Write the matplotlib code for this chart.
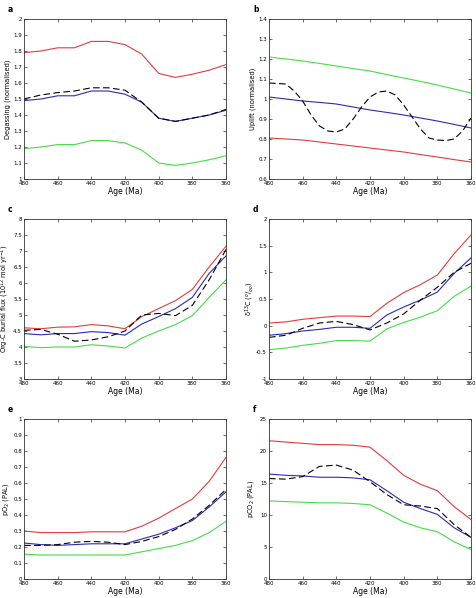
import matplotlib
matplotlib.use("Agg")
import matplotlib.pyplot as plt

age = [480, 470, 460, 450, 440, 430, 420, 410, 400, 390, 380, 370, 360]

# a: degassing
degas_red = [1.79, 1.80, 1.82, 1.82, 1.86, 1.86, 1.84, 1.78, 1.66, 1.635, 1.655, 1.68, 1.715]
degas_blue = [1.49, 1.50, 1.52, 1.52, 1.55, 1.55, 1.53, 1.48, 1.38, 1.36, 1.38, 1.40, 1.43]
degas_green = [1.19, 1.20, 1.215, 1.215, 1.24, 1.24, 1.225, 1.18, 1.10, 1.085, 1.10, 1.12, 1.145]
degas_dash = [1.50, 1.525, 1.54, 1.55, 1.57, 1.57, 1.555, 1.48, 1.38, 1.36, 1.38, 1.40, 1.435]

# b: uplift
uplift_red = [0.805, 0.80, 0.795, 0.785, 0.775, 0.765, 0.755, 0.745, 0.735, 0.722, 0.71, 0.697, 0.685]
uplift_blue = [1.01, 1.00, 0.99, 0.983, 0.975, 0.96, 0.945, 0.933, 0.92, 0.905, 0.89, 0.873, 0.855]
uplift_green = [1.21, 1.20, 1.19, 1.178, 1.165, 1.152, 1.14, 1.122, 1.105, 1.088, 1.07, 1.05, 1.03]
uplift_age_dash = [480, 470, 465, 460, 455, 450, 445, 440, 435, 430, 425, 420, 415, 410,
                   405, 400, 395, 390, 385, 380, 375, 370, 365, 360]
uplift_dash = [1.08, 1.075, 1.04, 0.99, 0.92, 0.865, 0.84, 0.835, 0.85, 0.90, 0.96, 1.01,
               1.035, 1.04, 1.02, 0.97, 0.91, 0.85, 0.805, 0.795, 0.792, 0.80, 0.84, 0.905]

# c: org-C burial
orgc_red = [4.6, 4.57, 4.62, 4.63, 4.7, 4.66, 4.57, 4.95, 5.2, 5.45, 5.8, 6.5, 7.15]
orgc_blue = [4.42, 4.38, 4.42, 4.42, 4.48, 4.45, 4.37, 4.72, 4.95, 5.2, 5.55, 6.3, 6.85]
orgc_green = [4.02, 3.98, 4.0, 4.0, 4.07, 4.03, 3.97, 4.28, 4.5, 4.7, 4.98, 5.55, 6.1]
orgc_dash = [4.52, 4.55, 4.4, 4.18, 4.22, 4.32, 4.5, 5.0, 5.05, 4.98, 5.3, 6.1, 7.05]

# d: d13C
d13c_red = [0.05, 0.07, 0.12, 0.15, 0.18, 0.18, 0.17, 0.42, 0.62, 0.77, 0.95, 1.35, 1.7]
d13c_blue = [-0.18, -0.15, -0.1, -0.07, -0.03, -0.03, -0.05, 0.2, 0.35, 0.48, 0.63, 0.98, 1.27]
d13c_green = [-0.45, -0.42, -0.37, -0.33, -0.28, -0.28, -0.29, -0.06, 0.06, 0.16, 0.28, 0.55, 0.74]
d13c_dash = [-0.22, -0.18, -0.05, 0.05, 0.08, 0.02, -0.08, 0.05, 0.22, 0.48, 0.72, 1.0, 1.17]

# e: pO2
po2_red = [0.30, 0.29, 0.29, 0.29, 0.295, 0.295, 0.295, 0.33, 0.38, 0.44, 0.50, 0.61, 0.76]
po2_blue = [0.225, 0.215, 0.21, 0.215, 0.22, 0.22, 0.22, 0.25, 0.28, 0.32, 0.365, 0.45, 0.545]
po2_green = [0.155, 0.15, 0.15, 0.15, 0.15, 0.15, 0.15, 0.17, 0.19, 0.21, 0.24, 0.29, 0.36]
po2_dash = [0.21, 0.21, 0.215, 0.23, 0.235, 0.23, 0.215, 0.235, 0.265, 0.31, 0.375, 0.46, 0.56]

# f: pCO2
pco2_red = [21.6, 21.4, 21.2, 21.0, 21.0, 20.9, 20.6, 18.5, 16.2, 14.8, 13.8, 11.3, 9.3]
pco2_blue = [16.4, 16.2, 16.1, 15.9, 15.9, 15.8, 15.5, 13.8, 12.0, 11.0, 10.1, 8.0, 6.5]
pco2_green = [12.2, 12.1, 12.0, 11.9, 11.9, 11.8, 11.6, 10.3, 8.9, 8.0, 7.4, 5.8, 4.6]
pco2_dash = [15.7, 15.6, 16.0, 17.6, 17.8, 17.0, 15.2, 13.2, 11.6, 11.4, 11.0, 8.5, 6.5]

RED, BLUE, GREEN = "#e03c3c", "#2a2ab8", "#44dd44"

panels = [
    ("a", "Degassing (normalised)", (1, 2), 0.1,
     [(age, degas_red), (age, degas_blue), (age, degas_green), (age, degas_dash)]),
    ("b", "Uplift (normalised)", (0.6, 1.4), 0.1,
     [(age, uplift_red), (age, uplift_blue), (age, uplift_green), (uplift_age_dash, uplift_dash)]),
    ("c", "Org-C burial flux (10$^{12}$ mol yr$^{-1}$)", (3, 8), 0.5,
     [(age, orgc_red), (age, orgc_blue), (age, orgc_green), (age, orgc_dash)]),
    ("d", "δ$^{13}$C ($^{o}$/$_{oo}$)", (-1, 2), 0.5,
     [(age, d13c_red), (age, d13c_blue), (age, d13c_green), (age, d13c_dash)]),
    ("e", "pO$_2$ (PAL)", (0, 1), 0.1,
     [(age, po2_red), (age, po2_blue), (age, po2_green), (age, po2_dash)]),
    ("f", "pCO$_2$ (PAL)", (0, 25), 5,
     [(age, pco2_red), (age, pco2_blue), (age, pco2_green), (age, pco2_dash)]),
]

fig = plt.figure(figsize=(4.77, 5.98), dpi=100)
lefts = [24 / 477, 269 / 477]
tops = [19, 219, 419]
w = 202 / 477
h = 160 / 598

for i, (lab, ylab, ylim, step, series) in enumerate(panels):
    row, col = divmod(i, 2)
    ax = fig.add_axes([lefts[col], 1 - (tops[row] + 160) / 598, w, h])
    for (x, y), c, ls in zip(series, [RED, BLUE, GREEN, "black"], ["-", "-", "-", (0, (6, 3))]):
        ax.plot(x, y, color=c, lw=0.8, ls=ls)
    ax.set_xlim(480, 360)
    ax.set_ylim(*ylim)
    ax.set_xticks(range(480, 359, -20))
    n = round((ylim[1] - ylim[0]) / step)
    ax.set_yticks([ylim[0] + k * step for k in range(n + 1)])
    ax.yaxis.set_major_formatter(matplotlib.ticker.FuncFormatter(lambda v, p: f"{v:g}"))
    ax.tick_params(direction="in", top=True, right=True, labelsize=4, length=2,
                   width=0.5, pad=1.5, color="#333333")
    for s in ax.spines.values():
        s.set_linewidth(0.6)
        s.set_color("#333333")
    ax.set_xlabel("Age (Ma)", fontsize=5.5, labelpad=1)
    ax.set_ylabel(ylab, fontsize=4.8)
    ax.yaxis.set_label_coords(-13 / 202, 0.5)
    fig.text(lefts[col] - 16 / 477, 1 - (tops[row] - 9) / 598, lab, fontsize=5.5,
             fontweight="bold", va="center")

fig.savefig("out.png", dpi=100)
